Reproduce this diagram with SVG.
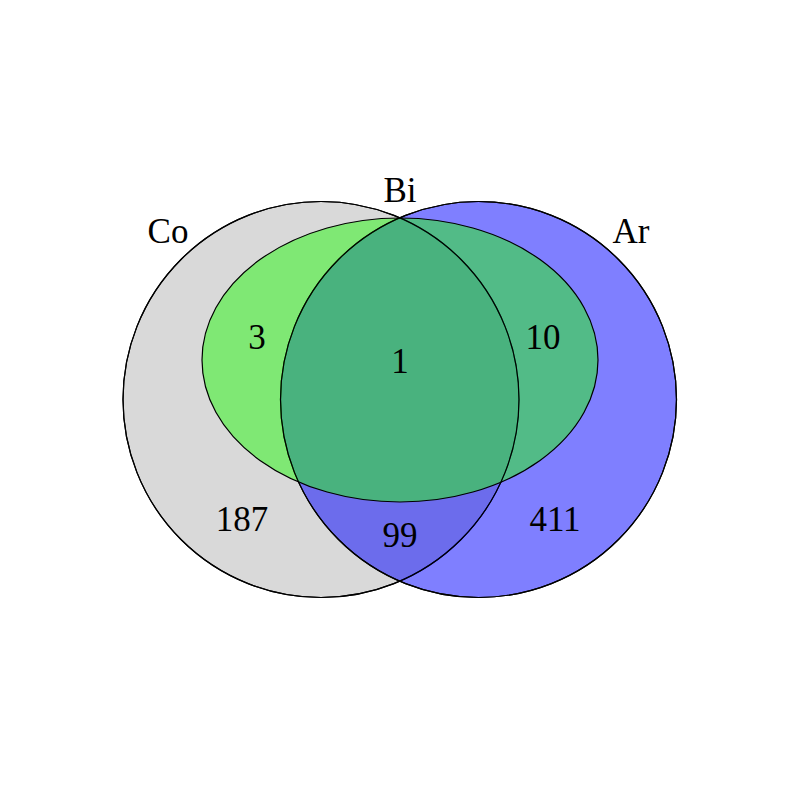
<svg xmlns="http://www.w3.org/2000/svg" width="800" height="800" viewBox="0 0 800 800">
<style>
.set{stroke:#000;stroke-width:1.2}
.lbl{font-family:"Liberation Serif","Times New Roman",serif;font-size:35px;fill:#000;text-anchor:middle}
</style>
<rect width="800" height="800" fill="#fff"/>
<g id="Co"><circle class="set" cx="321" cy="399.5" r="198" fill="#d9d9d9"/></g>
<g id="Ar"><circle class="set" cx="478.5" cy="399.5" r="198" fill="#0000ff" fill-opacity="0.5"/></g>
<g id="Bi"><ellipse class="set" cx="400" cy="360" rx="198" ry="142" fill="#26f70f" fill-opacity="0.5"/></g>
<g id="outlines" fill="none">
<circle class="set" cx="321" cy="399.5" r="198"/>
<circle class="set" cx="478.5" cy="399.5" r="198"/>
</g>
<g id="labels">
<text class="lbl" x="168" y="243">Co</text>
<text class="lbl" x="400" y="202">Bi</text>
<text class="lbl" x="631" y="243">Ar</text>
<text class="lbl" x="257" y="349">3</text>
<text class="lbl" x="400" y="373">1</text>
<text class="lbl" x="543" y="349">10</text>
<text class="lbl" x="242" y="531">187</text>
<text class="lbl" x="400" y="547">99</text>
<text class="lbl" x="555" y="531">411</text>
</g>
</svg>
